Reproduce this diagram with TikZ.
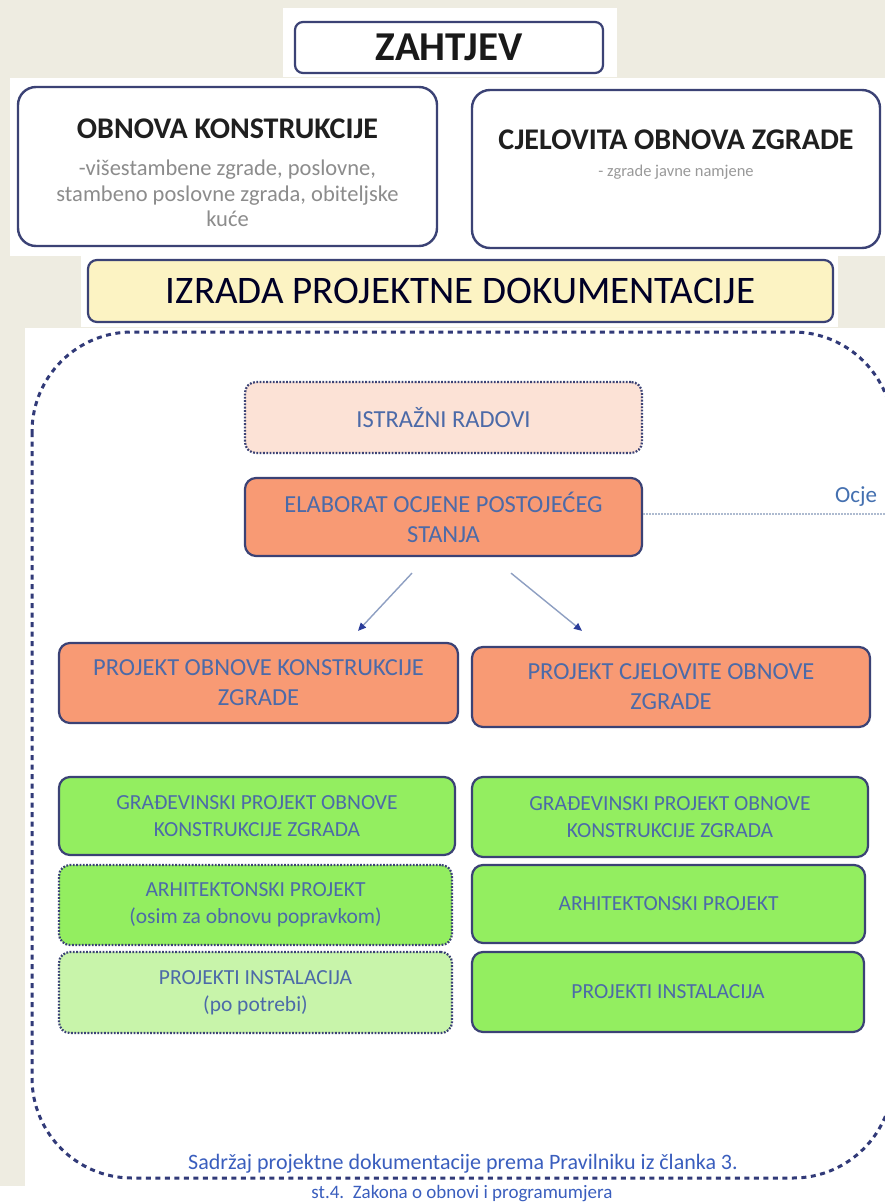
\documentclass[tikz,border=0pt]{standalone}
\usepackage{fontspec}
\setmainfont{Carlito}
\usetikzlibrary{arrows.meta}
\definecolor{beige}{HTML}{EEECE1}
\definecolor{navy}{HTML}{3B4275}
\definecolor{salmon}{HTML}{F89A74}
\definecolor{peach}{HTML}{FCE2D6}
\definecolor{lgreen}{HTML}{93EE60}
\definecolor{pgreen}{HTML}{C8F4AA}
\definecolor{pyellow}{HTML}{FCF3C3}
\definecolor{boxtext}{HTML}{4C6AA8}
\definecolor{subgray}{HTML}{8C8C8C}
\definecolor{framec}{HTML}{313A78}
\definecolor{linkblue}{HTML}{3A5EBE}
\definecolor{arrowline}{HTML}{8E9FC2}
\definecolor{arrowtip}{HTML}{2B3D9A}
\definecolor{dotline}{HTML}{AEBBD0}
\definecolor{ocjc}{HTML}{4470B0}
\begin{document}
\begin{tikzpicture}[x=1pt,y=-1pt,
  panelbox/.style={draw=navy, line width=2.4pt, rounded corners=18pt, fill=white, inner sep=0pt},
  flowbox/.style={draw=navy, line width=2.2pt, rounded corners=11pt, align=center, inner sep=0pt, text=boxtext},
  dotbox/.style={flowbox, dash pattern=on 1.8pt off 1.5pt},
  salmonfont/.style={font=\fontsize{24.5}{30}\selectfont},
  greenfont/.style={font=\fontsize{21.5}{27}\selectfont},
  titlefont/.style={font=\bfseries\fontsize{30}{32}\selectfont, text=black!88},
  subfont/.style={font=\fontsize{22.5}{25.5}\selectfont, text=subgray, align=center},
  arrowstyle/.style={draw=arrowline, line width=1.4pt, -{Triangle[length=8pt,width=7pt,color=arrowtip]}}
]
\useasboundingbox (0,0) rectangle (885,1202);
\clip (0,0) rectangle (885,1202);
% background and pasted white patches
\fill[beige] (0,0) rectangle (885,1202);
\fill[white] (283,8) rectangle (617,77);
\fill[white] (10,78) rectangle (885,256);
\fill[white] (81,252) rectangle (838,327);
\fill[white] (25,328) rectangle (885,1202);
\fill[white] (0,1186) rectangle (25,1202);

% top
\node[draw=navy, line width=2.2pt, rounded corners=8pt, minimum width=308, minimum height=51, inner sep=0pt,
      font=\bfseries\fontsize{41}{44}\selectfont, text=black!90] (zahtjev) at (449,47.5) {ZAHTJEV};

\node[panelbox, minimum width=419, minimum height=159] (obnk) at (227.5,166.5) {};
\node[titlefont] (obnkT) at (227.5,129) {OBNOVA KONSTRUKCIJE};
\node[subfont] (obnkS) at (227.5,193.5) {-višestambene zgrade, poslovne,\\stambeno poslovne zgrada, obiteljske\\kuće};

\node[panelbox, minimum width=408, minimum height=158] (cjel) at (676,169) {};
\node[titlefont, font=\bfseries\fontsize{30}{32}\selectfont] (cjelT) at (676,140) {CJELOVITA OBNOVA ZGRADE};
\node[subfont, font=\fontsize{16.5}{20}\selectfont, text=black!40] (cjelS) at (676,172) {- zgrade javne namjene};

\node[draw=navy, line width=2.2pt, rounded corners=9pt, fill=pyellow, minimum width=745, minimum height=62, inner sep=0pt,
      font=\fontsize{39}{44}\selectfont, text=black!85!blue] (izrada) at (460.5,291) {IZRADA PROJEKTNE DOKUMENTACIJE};

% dashed frame
\draw[framec, line width=3pt, dash pattern=on 5pt off 4.5pt, rounded corners=100pt] (32,332) rectangle (893,1178);

% flow
\node[dotbox, fill=peach, minimum width=397, minimum height=71, salmonfont] (istr) at (443.5,417.5) {ISTRAŽNI RADOVI};
\node[flowbox, fill=salmon, minimum width=397, minimum height=78, salmonfont] (elab) at (443.5,517) {ELABORAT OCJENE POSTOJEĆEG\\STANJA};

\coordinate (ocjend) at (885,514);
\draw[dotline, line width=1.3pt, dash pattern=on 1.5pt off 1.5pt] ([yshift=3]elab.east) -- (ocjend);
\node[anchor=west, text=ocjc, font=\fontsize{23}{26}\selectfont, inner sep=0pt] (ocj) at (835,497) {Ocje};

\node[flowbox, fill=salmon, minimum width=399, minimum height=80, salmonfont] (projL) at (258.5,683) {PROJEKT OBNOVE KONSTRUKCIJE\\ZGRADE};
\node[flowbox, fill=salmon, minimum width=398, minimum height=80, salmonfont] (projR) at (671,687) {PROJEKT CJELOVITE OBNOVE\\ZGRADE};

\draw[arrowstyle] ([xshift=-31.5,yshift=-16]elab.south) -- ([xshift=99.5,yshift=11]projL.north);
\draw[arrowstyle] ([xshift=67.5,yshift=-16]elab.south) -- ([xshift=-89,yshift=15]projR.north);

\node[flowbox, fill=lgreen, minimum width=396, minimum height=78, greenfont] (gradL) at (257,816) {GRAĐEVINSKI PROJEKT OBNOVE\\KONSTRUKCIJE ZGRADA};
\node[flowbox, fill=lgreen, minimum width=396, minimum height=80, greenfont] (gradR) at (670,817) {GRAĐEVINSKI PROJEKT OBNOVE\\KONSTRUKCIJE ZGRADA};

\node[dotbox, fill=lgreen, minimum width=393, minimum height=80, greenfont] (arhL) at (255.5,905) {ARHITEKTONSKI PROJEKT\\(osim za obnovu popravkom)};
\node[flowbox, fill=lgreen, minimum width=393, minimum height=78, greenfont] (arhR) at (668.5,904) {ARHITEKTONSKI PROJEKT};

\node[dotbox, fill=pgreen, minimum width=393, minimum height=81, greenfont] (instL) at (255.5,992.5) {PROJEKTI INSTALACIJA\\(po potrebi)};
\node[flowbox, fill=lgreen, minimum width=392, minimum height=80, greenfont] (instR) at (668,992) {PROJEKTI INSTALACIJA};

% bottom caption
\node[text=linkblue, font=\fontsize{22}{24}\selectfont, inner sep=0pt] (cap1) at (463,1164) {Sadržaj projektne dokumentacije prema Pravilniku iz članka 3.};
\node[text=linkblue, font=\fontsize{19}{24}\selectfont, inner sep=0pt] (cap2) at (462,1194) {st.4.\ \ Zakona o obnovi i programumjera};
\end{tikzpicture}
\end{document}
